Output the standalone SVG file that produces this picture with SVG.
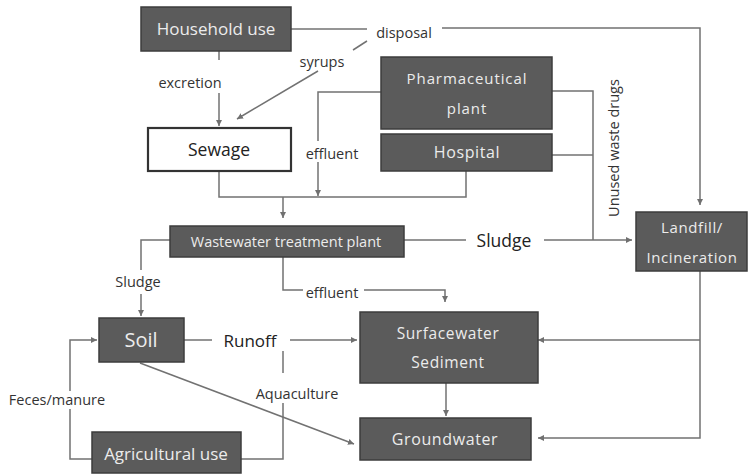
<svg xmlns="http://www.w3.org/2000/svg" width="748" height="476" viewBox="0 0 748 476">
<defs>
<marker id="ah" markerUnits="userSpaceOnUse" markerWidth="8" markerHeight="8" refX="6" refY="3" orient="auto">
<path d="M0,0 L6,3 L0,6 Z" fill="#707070"/>
</marker>
<style>
.box{fill:#5b5b5b;stroke:#3c3c3c;stroke-width:1.5}
.wbox{fill:#ffffff;stroke:#333333;stroke-width:2.2}
.bt{font-family:"Open Sans","Noto Sans",sans-serif;fill:#ececec;text-anchor:middle}
.wt{font-family:"Open Sans","Noto Sans",sans-serif;fill:#222222;text-anchor:middle}
.lb{font-family:"Open Sans","Noto Sans",sans-serif;fill:#333333;text-anchor:middle;font-size:14.5px}
.ln{fill:none;stroke:#727272;stroke-width:1.5}
.ar{marker-end:url(#ah)}
</style>
</defs>
<rect width="748" height="476" fill="#ffffff"/>
<g id="connectors">
<path class="ln" d="M291,29 H367"/>
<path class="ln ar" d="M442,28 H700 V205"/>
<path class="ln" d="M367,41 L353,50"/>
<path class="ln ar" d="M318,71 L237,119"/>
<path class="ln" d="M219,51 V60"/>
<path class="ln ar" d="M219,93 V126"/>
<path class="ln" d="M381,92 H318 V141"/>
<path class="ln ar" d="M318,162 V196"/>
<path class="ln" d="M219,171 V197 H466 V171"/>
<path class="ln ar" d="M283,197 V218"/>
<path class="ln" d="M552,91 H593 V240"/>
<path class="ln" d="M552,155 H593"/>
<path class="ln" d="M404,240 H466"/>
<path class="ln ar" d="M544,240 H632"/>
<path class="ln" d="M170,240 H141 V270"/>
<path class="ln ar" d="M141,294 V316"/>
<path class="ln" d="M283,257 V290 H303"/>
<path class="ln ar" d="M364,290 H445 V302"/>
<path class="ln" d="M184,340 H212"/>
<path class="ln ar" d="M290,340 H357"/>
<path class="ln" d="M283,351 V373"/>
<path class="ln" d="M283,403 V459 H241"/>
<path class="ln" d="M92,459 H70 V409"/>
<path class="ln ar" d="M70,391 V340 H97"/>
<path class="ln ar" d="M140,363 L354,444"/>
<path class="ln ar" d="M446,383 V416"/>
<path class="ln ar" d="M700,271 V438 H538"/>
<path class="ln ar" d="M700,340 H538"/>
<text class="lb" x="404" y="38" font-size="16">disposal</text>
<text class="lb" x="322" y="67">syrups</text>
<text class="lb" x="190" y="88">excretion</text>
<text class="lb" x="332" y="159" font-size="15">effluent</text>
<text class="lb" x="332" y="298" font-size="15">effluent</text>
<text class="lb" x="138" y="287" font-size="15.5">Sludge</text>
<text class="wt" x="504" y="247" font-size="17.5">Sludge</text>
<text class="wt" x="250" y="347" font-size="17">Runoff</text>
<text class="lb" x="297" y="399">Aquaculture</text>
<text class="lb" x="57" y="405">Feces/manure</text>
<text class="lb" x="619" y="148" font-size="15" transform="rotate(-90 619 148)">Unused waste drugs</text>
</g>
<g id="household"><rect class="box" x="141" y="7" width="150" height="44"/><text class="bt" x="216" y="35" font-size="17">Household use</text></g>
<g id="sewage"><rect class="wbox" x="148" y="128" width="143" height="43"/><text class="wt" x="219" y="156" font-size="17.5">Sewage</text></g>
<g id="pharma"><rect class="box" x="381" y="57" width="171" height="72"/><text class="bt" x="467" y="84" font-size="15" letter-spacing="0.9">Pharmaceutical</text><text class="bt" x="467" y="114" font-size="15" letter-spacing="0.9">plant</text></g>
<g id="hospital"><rect class="box" x="381" y="134" width="171" height="37"/><text class="bt" x="467" y="158" font-size="16" letter-spacing="0.6">Hospital</text></g>
<g id="wwtp"><rect class="box" x="170" y="226" width="234" height="31"/><text class="bt" x="286" y="247" font-size="14.5">Wastewater treatment plant</text></g>
<g id="landfill"><rect class="box" x="636" y="212" width="111" height="59"/><text class="bt" x="692" y="233" font-size="15" letter-spacing="0.6">Landfill/</text><text class="bt" x="692" y="263" font-size="15" letter-spacing="0.6">Incineration</text></g>
<g id="soil"><rect class="box" x="99" y="318" width="85" height="44"/><text class="bt" x="141" y="347" font-size="20">Soil</text></g>
<g id="surfacewater"><rect class="box" x="360" y="312" width="178" height="71"/><text class="bt" x="448" y="339" font-size="15.5" letter-spacing="0.6">Surfacewater</text><text class="bt" x="448" y="368" font-size="15.5" letter-spacing="0.6">Sediment</text></g>
<g id="groundwater"><rect class="box" x="360" y="418" width="171" height="42"/><text class="bt" x="445" y="445" font-size="16" letter-spacing="0.6">Groundwater</text></g>
<g id="agricultural"><rect class="box" x="92" y="432" width="149" height="41"/><text class="bt" x="166" y="460" font-size="17">Agricultural use</text></g>
</svg>
